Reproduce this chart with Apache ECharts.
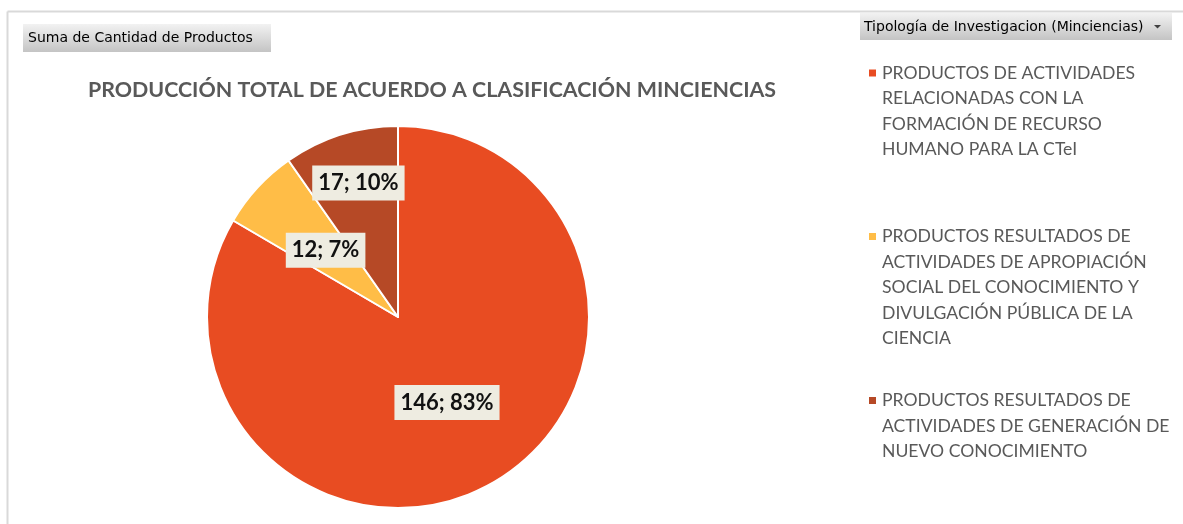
<!DOCTYPE html>
<html>
<head>
<meta charset="utf-8">
<script src="https://cdn.jsdelivr.net/npm/echarts@6/dist/echarts.min.js"></script>
<style>
  html, body { margin: 0; padding: 0; background: #fff; }
  #main { width: 1183px; height: 524px; }
</style>
</head>
<body>
<div id="main"></div>
<script>
var categories = [
    'PRODUCTOS DE ACTIVIDADES RELACIONADAS CON LA FORMACIÓN DE RECURSO HUMANO PARA LA CTeI',
    'PRODUCTOS RESULTADOS DE ACTIVIDADES DE APROPIACIÓN SOCIAL DEL CONOCIMIENTO Y DIVULGACIÓN PÚBLICA DE LA CIENCIA',
    'PRODUCTOS RESULTADOS DE ACTIVIDADES DE GENERACIÓN DE NUEVO CONOCIMIENTO'
];
var values = [146, 12, 17];
// how the legend breaks each name into lines
var legendLines = [
    ['PRODUCTOS DE ACTIVIDADES', 'RELACIONADAS CON LA', 'FORMACIÓN DE RECURSO', 'HUMANO PARA LA CTeI'],
    ['PRODUCTOS RESULTADOS DE', 'ACTIVIDADES DE APROPIACIÓN', 'SOCIAL DEL CONOCIMIENTO Y', 'DIVULGACIÓN PÚBLICA DE LA', 'CIENCIA'],
    ['PRODUCTOS RESULTADOS DE', 'ACTIVIDADES DE GENERACIÓN DE', 'NUEVO CONOCIMIENTO']
];
var colors = ['#E84C22', '#FFBD47', '#B64926'];

var lh = 25.5;
var firstLineY = [73, 236.5, 400.5];
// one legend per item; blank lines in front keep the marker next to the first line
var legends = categories.map(function(name, i) {
    var n = legendLines[i].length;
    var blank = new Array(n).join('\n');
    return {
        data: [name],
        orient: 'vertical',
        left: 867,
        top: firstLineY[i] - (2 * n - 1) * lh / 2,
        padding: 0,
        icon: 'rect',
        itemWidth: 9,
        itemHeight: 9,
        itemGap: 0,
        selectedMode: false,
        formatter: function() { return blank + legendLines[i].join('\n'); },
        textStyle: {
            fontFamily: 'Lato',
            fontSize: 17.6,
            color: '#595959',
            lineHeight: lh
        }
    };
});

var btnFill = function() {
    return new echarts.graphic.LinearGradient(0, 0, 0, 1, [
        { offset: 0, color: '#F2F2F2' }, { offset: 1, color: '#C4C4C4' }]);
};

var myChart = echarts.init(document.getElementById('main'));
var option = {
    animation: false,
    color: colors,
    title: {
        text: 'PRODUCCIÓN TOTAL DE ACUERDO A CLASIFICACIÓN MINCIENCIAS',
        left: 427,
        top: 75,
        textAlign: 'center',
        textStyle: {
            fontFamily: 'Lato',
            fontWeight: 'bold',
            fontSize: 21.4,
            color: '#595959'
        }
    },
    legend: legends,
    graphic: [
        { type: 'line', shape: { x1: 7.5, y1: 11.5, x2: 1183, y2: 11.5 }, style: { stroke: '#D9D9D9', lineWidth: 2 } },
        { type: 'line', shape: { x1: 7.5, y1: 11.5, x2: 7.5, y2: 524 }, style: { stroke: '#D9D9D9', lineWidth: 2 } },
        { type: 'rect', shape: { x: 23, y: 24, width: 248, height: 28 }, style: { fill: btnFill() } },
        {
            type: 'text', x: 28, y: 38,
            style: { text: 'Suma de Cantidad de Productos', fontFamily: 'DejaVu Sans', fontSize: 14, fill: '#000', verticalAlign: 'middle' }
        },
        { type: 'rect', shape: { x: 860, y: 13, width: 312, height: 27 }, style: { fill: btnFill() } },
        {
            type: 'text', x: 864, y: 27,
            style: { text: 'Tipología de Investigacion (Minciencias)', fontFamily: 'DejaVu Sans', fontSize: 14, fill: '#000', verticalAlign: 'middle' }
        },
        {
            type: 'polygon', shape: { points: [[1154, 25], [1161, 25], [1157.5, 28.5]] },
            style: { fill: '#404040' }
        }
    ],
    series: [{
        type: 'pie',
        center: [398, 317],
        radius: 191,
        startAngle: 90,
        clockwise: true,
        percentPrecision: 0,
        itemStyle: { borderColor: '#fff', borderWidth: 2 },
        label: {
            position: 'inner',
            formatter: '{c}; {d}%',
            fontFamily: 'Lato',
            fontWeight: 'bold',
            fontSize: 22,
            color: '#111',
            backgroundColor: '#EEECE1',
            padding: [7, 6, 6, 6]
        },
        labelLayout: function(params) {
            if (params.dataIndex === 2) return { dx: -10, dy: -40 };
            return {};
        },
        emphasis: { disabled: true },
        data: categories.map(function(name, i) {
            return { name: name, value: values[i] };
        })
    }]
};
myChart.setOption(option);
window.onresize = myChart.resize;
</script>
</body>
</html>
